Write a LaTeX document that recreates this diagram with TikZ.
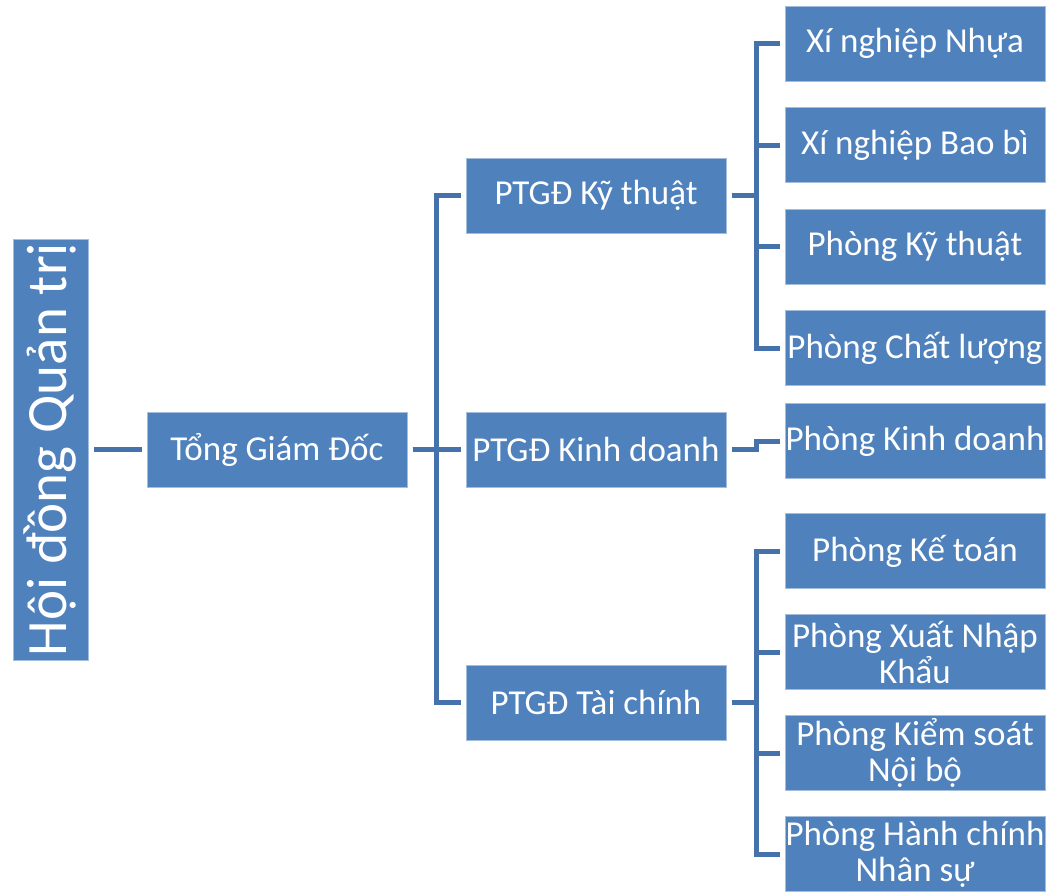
\documentclass[tikz,border=0pt]{standalone}
\usepackage{fontspec}
\setmainfont{Carlito}
\usepackage{graphicx}
\usetikzlibrary{positioning}
\definecolor{boxblue}{HTML}{4F81BD}
\definecolor{linkblue}{HTML}{4672AB}
\definecolor{rimblue}{HTML}{A5BDDC}

\begin{document}
\begin{tikzpicture}[
                    x=1pt, y=1pt,
                    line width=5pt,
                    color=linkblue,
                    node distance=48pt,
                    box/.style={fill=boxblue, draw=rimblue, line width=0.8pt,
                        text=white, minimum width=260pt, minimum height=75pt,
                        inner sep=0pt, outer sep=5.5pt, align=center,
                        font=\fontsize{35}{36}\selectfont}
                ]
                \useasboundingbox (0,0) rectangle (1057,-894);

                \node[box, minimum width=75pt, minimum height=421pt,
                    font=\fontsize{57}{60}\selectfont] (hdqt) at (50.5,-449.5)
                    {\rotatebox{90}{Hội đồng Quản trị}} ;
                \node[box] (tgd) [right=of hdqt] {Tổng Giám Đốc} ;

                % pho tong giam doc
                \node[box] (ptgd-kd) [right=of tgd] {PTGĐ Kinh doanh} ;
                \node[box] (ptgd-kt) [above=168pt of ptgd-kd] {PTGĐ Kỹ thuật} ;
                \node[box] (ptgd-tc) [below=167pt of ptgd-kd] {PTGĐ Tài chính} ;

                % khoi ky thuat
                \begin{scope}[node distance=15.5pt]
                    \node[box] (xn-nhua) [right=48pt of ptgd-kt, yshift=152pt] {Xí nghiệp Nhựa} ;
                    \node[box] (xn-baobi) [below=of xn-nhua] {Xí nghiệp Bao bì} ;
                    \node[box] (p-kythuat) [below=of xn-baobi] {Phòng Kỹ thuật} ;
                    \node[box] (p-chatluong) [below=of p-kythuat] {Phòng Chất lượng} ;
                \end{scope}

                % khoi kinh doanh
                \node[box] (p-kinhdoanh) [right=of ptgd-kd, yshift=8.5pt] {Phòng Kinh doanh} ;

                % khoi tai chinh
                \begin{scope}[node distance=15pt]
                    \node[box] (p-ketoan) [right=48pt of ptgd-tc, yshift=151.5pt] {Phòng Kế toán} ;
                    \node[box] (p-xnk) [below=of p-ketoan] {Phòng Xuất Nhập\\Khẩu} ;
                    \node[box] (p-ksnb) [below=of p-xnk] {Phòng Kiểm soát\\Nội bộ} ;
                    \node[box] (p-hcns) [below=of p-ksnb] {Phòng Hành chính\\Nhân sự} ;
                \end{scope}

                \draw (hdqt) -- (tgd) ;
                \draw (tgd.east) -- ++(23.5pt,0) |- (ptgd-kt) ;
                \draw (tgd.east) -- (ptgd-kd) ;
                \draw (tgd.east) -- ++(23.5pt,0) |- (ptgd-tc) ;

                \draw (ptgd-kt.east) -- ++(24.5pt,0) |- (xn-nhua) ;
                \draw (ptgd-kt.east) -- ++(24.5pt,0) |- (xn-baobi) ;
                \draw (ptgd-kt.east) -- ++(24.5pt,0) |- (p-kythuat) ;
                \draw (ptgd-kt.east) -- ++(24.5pt,0) |- (p-chatluong) ;

                \draw (ptgd-kd.east) -- ++(24.5pt,0) |- (p-kinhdoanh) ;

                \draw (ptgd-tc.east) -- ++(24.5pt,0) |- (p-ketoan) ;
                \draw (ptgd-tc.east) -- ++(24.5pt,0) |- (p-xnk) ;
                \draw (ptgd-tc.east) -- ++(24.5pt,0) |- (p-ksnb) ;
                \draw (ptgd-tc.east) -- ++(24.5pt,0) |- (p-hcns) ;
            \end{tikzpicture}
\end{document}
